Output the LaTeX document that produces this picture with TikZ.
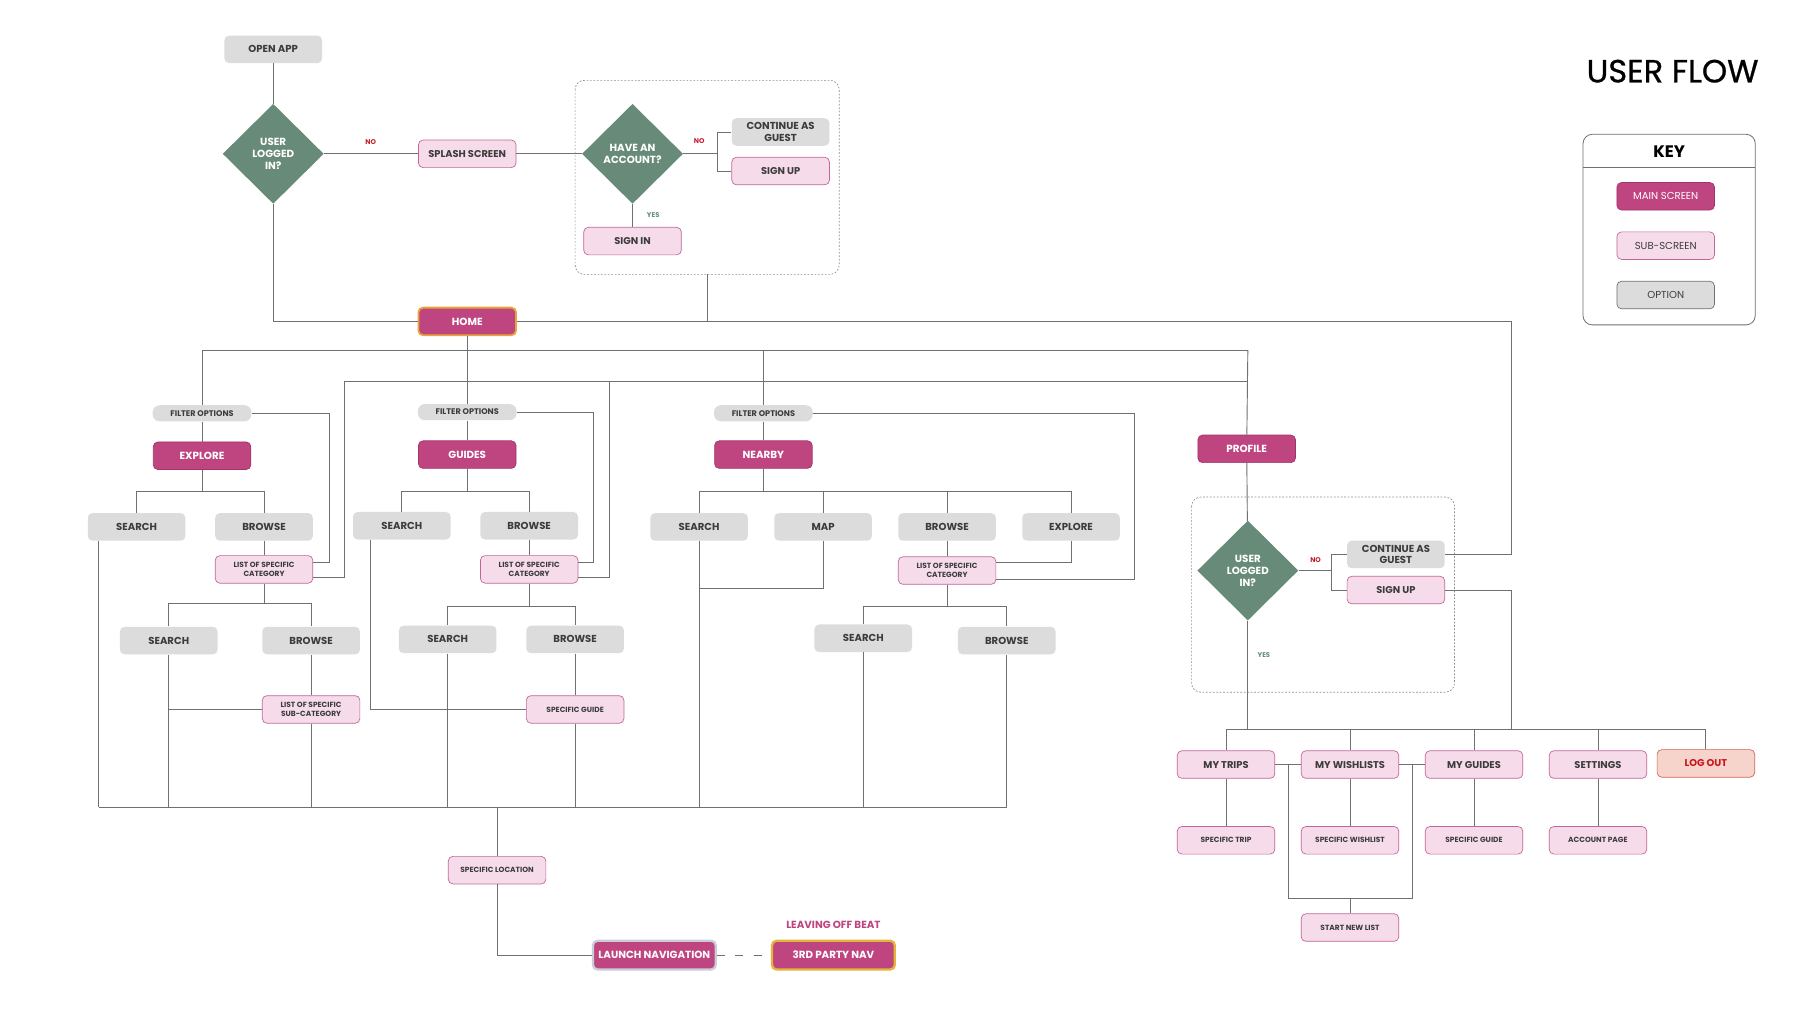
\documentclass[tikz,border=0pt]{standalone}
\usepackage{fontspec}
\setmainfont{Poppins}
\newfontfamily\titlefont{Poppins}[FakeBold=0.7]
\usetikzlibrary{shapes.geometric,calc}
\definecolor{mainpink}{HTML}{BF4581}
\definecolor{mainedge}{HTML}{A0356A}
\definecolor{subpink}{HTML}{F6DCEA}
\definecolor{subedge}{HTML}{C2669A}
\definecolor{optgray}{HTML}{DCDCDC}
\definecolor{sage}{HTML}{688A78}
\definecolor{wiregray}{HTML}{707070}
\definecolor{textgray}{HTML}{3C3C3C}
\definecolor{nored}{HTML}{C41E2E}
\definecolor{yesgreen}{HTML}{5F8F78}
\definecolor{homeedge}{HTML}{E9A43C}
\definecolor{navedge}{HTML}{E4B43A}
\definecolor{launchedge}{HTML}{C9CDD6}
\definecolor{logfill}{HTML}{F7D4CB}
\definecolor{logedge}{HTML}{D4615A}
\definecolor{logtext}{HTML}{C8161D}
\tikzset{
  box/.style={rounded corners=4pt,minimum width=85pt,minimum height=24pt,
              inner sep=1pt,align=center,line width=0.6pt},
  mainscr/.style={box,fill=mainpink,draw=mainedge,text=white,
                  font=\bfseries\fontsize{9}{10.5}\selectfont},
  subscr/.style={box,fill=subpink,draw=subedge,text=textgray,
                 font=\bfseries\fontsize{8.6}{10}\selectfont},
  sublist/.style={subscr,font=\bfseries\fontsize{6.5}{7.6}\selectfont},
  optscr/.style={box,fill=optgray,draw=none,text=textgray,
                 font=\bfseries\fontsize{8.8}{10}\selectfont},
  filt/.style={optscr,minimum width=86pt,minimum height=14pt,rounded corners=6pt,
               font=\bfseries\fontsize{7.1}{8}\selectfont},
  logbox/.style={box,fill=logfill,draw=logedge,text=logtext,
                 font=\bfseries\fontsize{8.6}{10}\selectfont},
  decision/.style={diamond,aspect=1,fill=sage,draw=none,minimum width=88pt,
                   minimum height=87pt,inner sep=0pt,align=center,text=white,
                   font=\bfseries\fontsize{9}{10.5}\selectfont},
  wire/.style={draw=wiregray,line width=0.8pt},
  dashbox/.style={draw=wiregray!80,dash pattern=on 1.5pt off 1.5pt,
                  line width=0.6pt,rounded corners=8pt},
  keyframe/.style={draw=wiregray,line width=0.7pt,rounded corners=8pt},
  nolbl/.style={text=nored,font=\bfseries\fontsize{6}{7}\selectfont},
  yeslbl/.style={text=yesgreen,font=\bfseries\fontsize{6}{7}\selectfont},
  keytxt/.style={font=\fontsize{8.8}{10}\selectfont}
}
\begin{document}
\begin{tikzpicture}[x=1pt,y=-1pt]
  \path[use as bounding box,fill=white] (0,0) rectangle (1568,889);

  % title and key
  \node[font=\titlefont\fontsize{28}{30}\selectfont] (ttl) at (1457,62) {USER FLOW};
  \draw[keyframe] (1379,117) rectangle (1529,283);
  \draw[keyframe,rounded corners=0pt] (1379,146) -- (1529,146);
  \node[font=\bfseries\fontsize{14.5}{16}\selectfont] (keyttl) at (1454,132) {KEY};
  \node[mainscr,keytxt] (kmain) at (1451,171) {MAIN SCREEN};
  \node[subscr,keytxt] (ksub) at (1451,214) {SUB-SCREEN};
  \node[optscr,keytxt,draw=wiregray] (kopt) at (1451,257) {OPTION};

  % login
  \draw[dashbox] (501,70) rectangle (731,239);
  \coordinate (authbot) at (616,239);
  \node[optscr] (open) at (238,43) {OPEN APP};
  \node[decision] (ask1) at (238,134) {USER\\LOGGED\\IN?};
  \node[subscr] (splash) at (407,134) {SPLASH SCREEN};
  \node[decision] (ask2) at (551,134) {HAVE AN\\ACCOUNT?};
  \node[optscr] (guest1) at (680,115) {CONTINUE AS\\GUEST};
  \node[subscr] (signup1) at (680,149) {SIGN UP};
  \node[subscr] (signin) at (551,210) {SIGN IN};
  \node[mainscr,draw=homeedge,line width=1.6pt] (home) at (407,280) {HOME};
  \node[nolbl] (no1) at (323,124) {NO};
  \node[nolbl] (no2) at (609,123) {NO};
  \node[yeslbl] (yes1) at (569,187) {YES};
  \coordinate (j1) at (625,134);
  \coordinate (rt) at (1317,280);

  \draw[wire] (open) -- (ask1);
  \draw[wire] (ask1) -- (splash);
  \draw[wire] (splash) -- (ask2);
  \draw[wire] (ask2) -- (signin);
  \draw[wire] (ask2.east) -- (j1) |- (guest1);
  \draw[wire] (j1) |- (signup1);
  \draw[wire] (ask1) |- (home);
  \draw[wire] (authbot) -- (authbot |- home.east);

  % explore
  \coordinate (b1l) at (176,305);
  \coordinate (b1r) at (1087,305);
  \coordinate (bl) at (86,703);
  \coordinate (ej) at (176,428);
  \coordinate (el) at (230,526);
  \node[filt] (fexp) at (176,360) {FILTER OPTIONS};
  \node[mainscr] (explore) at (176,397) {EXPLORE};
  \node[optscr] (esearch) at (119,459) {SEARCH};
  \node[optscr] (ebrowse) at (230,459) {BROWSE};
  \node[sublist] (elist) at (230,496) {LIST OF SPECIFIC\\CATEGORY};
  \node[optscr] (esearch2) at (147,558) {SEARCH};
  \node[optscr] (ebrowse2) at (271,558) {BROWSE};
  \node[sublist] (esub) at (271,618) {LIST OF SPECIFIC\\SUB-CATEGORY};

  \draw[wire] (b1l) -- (b1r);
  \draw[wire] (b1l) -- (fexp);
  \draw[wire] (fexp) -- (explore);
  \draw[wire] (explore) -- (ej);
  \draw[wire] (esearch) |- (ej) -| (ebrowse);
  \draw[wire] (ebrowse) -- (elist);
  \draw[wire] (fexp.east) -| (287,490) -- (elist.east |- 0,490);
  \draw[wire] (elist.east |- 0,503) -| (300,332) -- (b1r |- 0,332);
  \draw[wire] (elist) -- (el);
  \draw[wire] (esearch2) |- (el) -| (ebrowse2);
  \draw[wire] (ebrowse2) -- (esub);
  \draw[wire] (esub) -- (esearch2 |- esub);
  \draw[wire] (esearch2) -- (esearch2 |- bl);
  \draw[wire] (esub) -- (esub |- bl);
  \draw[wire] (esearch.south -| bl) -- (bl);

  % guides
  \coordinate (gj) at (407,428);
  \coordinate (gl) at (461,528);
  \node[filt] (fgui) at (407,359) {FILTER OPTIONS};
  \node[mainscr] (guides) at (407,396) {GUIDES};
  \node[optscr] (gsearch) at (350,458) {SEARCH};
  \node[optscr] (gbrowse) at (461,458) {BROWSE};
  \node[sublist] (glist) at (461,496) {LIST OF SPECIFIC\\CATEGORY};
  \node[optscr] (gsearch2) at (390,557) {SEARCH};
  \node[optscr] (gbrowse2) at (501,557) {BROWSE};
  \node[sublist] (gguide) at (501,618) {SPECIFIC GUIDE};

  \draw[wire] (home) -- (fgui);
  \draw[wire] (fgui) -- (guides);
  \draw[wire] (guides) -- (gj);
  \draw[wire] (gsearch) |- (gj) -| (gbrowse);
  \draw[wire] (gbrowse) -- (glist);
  \draw[wire] (fgui.east) -| (517,490) -- (glist.east |- 0,490);
  \draw[wire] (glist.east |- 0,503) -| (531,332);
  \draw[wire] (glist) -- (gl);
  \draw[wire] (gsearch2) |- (gl) -| (gbrowse2);
  \draw[wire] (gbrowse2) -- (gguide);
  \draw[wire] (gsearch.south -| 323,0) |- (gguide);
  \draw[wire] (gsearch2) -- (gsearch2 |- bl);
  \draw[wire] (gguide) -- (gguide |- bl);

  % nearby
  \coordinate (nj) at (665,428);
  \coordinate (nl) at (825,528);
  \node[filt] (fnear) at (665,360) {FILTER OPTIONS};
  \node[mainscr] (nearby) at (665,396) {NEARBY};
  \node[optscr] (nsearch) at (609,459) {SEARCH};
  \node[optscr] (nmap) at (717,459) {MAP};
  \node[optscr] (nbrowse) at (825,459) {BROWSE};
  \node[optscr] (nexplore) at (933,459) {EXPLORE};
  \node[sublist] (nlist) at (825,497) {LIST OF SPECIFIC\\CATEGORY};
  \node[optscr] (nsearch2) at (752,556) {SEARCH};
  \node[optscr] (nbrowse2) at (877,558) {BROWSE};

  \draw[wire] (fnear |- b1l) -- (fnear);
  \draw[wire] (fnear) -- (nearby);
  \draw[wire] (nearby) -- (nj);
  \draw[wire] (nsearch) |- (nj) -| (nexplore);
  \draw[wire] (nmap) -- (nmap |- nj);
  \draw[wire] (nbrowse) -- (nbrowse |- nj);
  \draw[wire] (nbrowse) -- (nlist);
  \draw[wire] (nexplore) |- (nlist.east |- 0,490);
  \draw[wire] (fnear.east) -| (988,505) -- (nlist.east |- 0,505);
  \draw[wire] (nmap) |- (nsearch |- 0,513);
  \draw[wire] (nsearch) -- (nsearch |- bl);
  \draw[wire] (nlist) -- (nl);
  \draw[wire] (nsearch2) |- (nl) -| (nbrowse2);
  \draw[wire] (nsearch2) -- (nsearch2 |- bl);
  \draw[wire] (nbrowse2) -- (nbrowse2 |- bl);
  \draw[wire] (bl) -- (nbrowse2 |- bl);

  % location and navigation
  \node[sublist] (loc) at (433,758) {SPECIFIC LOCATION};
  \node[mainscr,draw=launchedge,line width=2pt,minimum width=107pt,
        minimum height=25pt] (launch) at (570,832) {LAUNCH NAVIGATION};
  \node[mainscr,draw=navedge,line width=2pt,minimum width=107pt,
        minimum height=25pt] (thirdnav) at (726,832) {3RD PARTY NAV};
  \node[text=mainpink,font=\bfseries\fontsize{9}{10}\selectfont]
    (beat) at (726,806) {LEAVING OFF BEAT};
  \draw[wire] (loc |- bl) -- (loc);
  \draw[wire] (loc) |- (launch);
  \draw[wire,dash pattern=on 7pt off 9pt] (launch) -- (thirdnav);

  % profile
  \draw[dashbox] (1038,433) rectangle (1267,603);
  \coordinate (j2) at (1160,497);
  \coordinate (pbus) at (1087,635);
  \node[mainscr] (profile) at (1086,391) {PROFILE};
  \node[decision] (ask3) at (1087,497) {USER\\LOGGED\\IN?};
  \node[optscr] (guest2) at (1216,483) {CONTINUE AS\\GUEST};
  \node[subscr] (signup2) at (1216,514) {SIGN UP};
  \node[nolbl] (no3) at (1146,488) {NO};
  \node[yeslbl] (yes2) at (1101,571) {YES};
  \node[subscr] (trips) at (1068,666) {MY TRIPS};
  \node[subscr] (wish) at (1176,666) {MY WISHLISTS};
  \node[subscr] (myguides) at (1284,666) {MY GUIDES};
  \node[subscr] (settings) at (1392,666) {SETTINGS};
  \node[logbox] (logout) at (1486,665) {LOG OUT};
  \node[sublist] (strip) at (1068,732) {SPECIFIC TRIP};
  \node[sublist] (swish) at (1176,732) {SPECIFIC WISHLIST};
  \node[sublist] (sguide) at (1284,732) {SPECIFIC GUIDE};
  \node[sublist] (account) at (1392,732) {ACCOUNT PAGE};
  \node[sublist] (newlist) at (1176,808) {START NEW LIST};

  \draw[wire] (b1r) -- (profile);
  \draw[wire] (profile) -- (ask3);
  \draw[wire] (ask3.east) -- (j2) |- (guest2);
  \draw[wire] (j2) |- (signup2);
  \draw[wire] (home.east) -- (rt) |- (guest2);
  \draw[wire] (signup2) -| (rt |- pbus);
  \draw[wire] (ask3) -- (pbus);
  \draw[wire] (trips |- pbus) -- (logout |- pbus);
  \foreach \n in {trips,wish,myguides,settings,logout}
    \draw[wire] (\n |- pbus) -- (\n);
  \draw[wire] (trips) -- (strip);
  \draw[wire] (wish) -- (swish);
  \draw[wire] (myguides) -- (sguide);
  \draw[wire] (settings) -- (account);
  \draw[wire] (trips) -- (wish);
  \draw[wire] (wish) -- (myguides);
  \draw[wire] ($(trips.east)!.5!(wish.west)$) |- (newlist |- 0,783)
    -| ($(wish.east)!.5!(myguides.west)$);
  \draw[wire] (newlist |- 0,783) -- (newlist);
\end{tikzpicture}
\end{document}
